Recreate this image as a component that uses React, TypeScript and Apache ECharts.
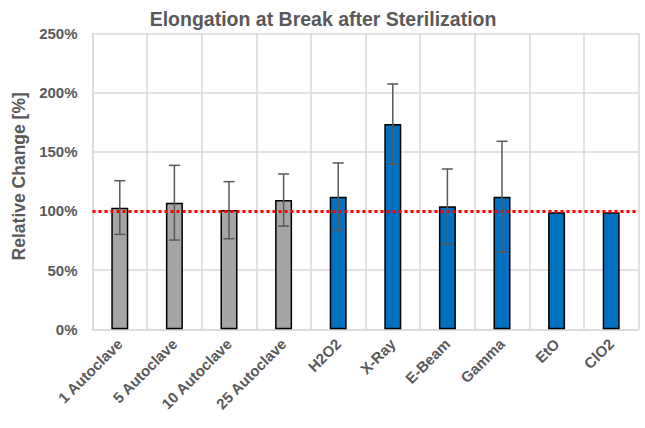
import React, { useEffect, useRef } from "react";
import * as echarts from "echarts";

const categories = ["1 Autoclave", "5 Autoclave", "10 Autoclave", "25 Autoclave", "H2O2", "X-Ray", "E-Beam", "Gamma", "EtO", "ClO2"];
const values = [102.7, 106.9, 100.8, 109.2, 112, 173.4, 103.9, 112, 98.8, 98.8];
const errLow = [80.2, 75.4, 76.5, 87.2, 83.6, 139.4, 72, 65, null, null];
const errHigh = [125.5, 138.5, 124.7, 131.2, 140.5, 207.2, 135.4, 158.8, null, null];
const barColors = ["#A5A5A5", "#A5A5A5", "#A5A5A5", "#A5A5A5", "#0070C0", "#0070C0", "#0070C0", "#0070C0", "#0070C0", "#0070C0"];
const yTicks = [0, 50, 100, 150, 200, 250];
const referenceValue = 100;

export default function App() {
  const ref = useRef<HTMLDivElement>(null);
  useEffect(() => {
    const chart = echarts.init(ref.current!, null, { renderer: "svg" });
    const font = "'Liberation Sans', Arial, sans-serif";
    const errData = categories
      .map((_, i) => (errLow[i] == null ? null : [i, errLow[i], errHigh[i]]))
      .filter((d) => d != null);
    chart.setOption({
      animation: false,
      backgroundColor: "#ffffff",
      title: {
        text: "Elongation at Break after Sterilization",
        left: 318,
        textAlign: "center",
        top: 4,
        textStyle: { fontFamily: font, fontSize: 19.5, fontWeight: "bold", color: "#595959" },
      },
      grid: { left: 92.5, right: 6.5, top: 33.3, bottom: 98.7, containLabel: false },
      xAxis: {
        type: "category",
        data: categories,
        axisLine: { show: true, lineStyle: { color: "#D9D9D9", width: 1.5 } },
        axisTick: { show: false },
        splitLine: { show: true, lineStyle: { color: "#D9D9D9", width: 1.5 } },
        axisLabel: {
          interval: 0,
          rotate: 45,
          margin: 12,
          fontFamily: font,
          fontSize: 15,
          fontWeight: "bold",
          color: "#595959",
        },
      },
      yAxis: {
        type: "value",
        min: 0,
        max: 250,
        interval: 50,
        name: "Relative Change [%]",
        nameLocation: "middle",
        nameGap: 60,
        nameTextStyle: { fontFamily: font, fontSize: 17.5, fontWeight: "bold", color: "#595959", padding: [0, 0, 0, 10] },
        axisLine: { show: true, lineStyle: { color: "#D9D9D9", width: 1.5 } },
        axisTick: { show: false },
        splitLine: { show: true, lineStyle: { color: "#D9D9D9", width: 1.5 } },
        axisLabel: {
          margin: 15,
          fontFamily: font,
          fontSize: 15,
          fontWeight: "bold",
          color: "#595959",
          formatter: (v: number) => (yTicks.includes(v) ? v + "%" : ""),
        },
      },
      series: [
        {
          type: "bar",
          data: values.map((v, i) => ({ value: v, itemStyle: { color: barColors[i] } })),
          barWidth: 17,
          itemStyle: { borderColor: "#000000", borderWidth: 1.5 },
          markLine: {
            silent: true,
            symbol: "none",
            label: { show: false },
            lineStyle: { color: "#FF0000", type: [3, 3], width: 3 },
            data: [{ yAxis: referenceValue }],
          },
          z: 2,
        },
        {
          type: "custom",
          data: errData,
          z: 5,
          renderItem: (params: any, api: any) => {
            const x = api.value(0);
            const lo = api.coord([x, api.value(1)]);
            const hi = api.coord([x, api.value(2)]);
            const hw = 5.5;
            const style = { stroke: "#595959", lineWidth: 1.5 };
            return {
              type: "group",
              children: [
                { type: "line", shape: { x1: lo[0], y1: lo[1], x2: hi[0], y2: hi[1] }, style },
                { type: "line", shape: { x1: lo[0] - hw, y1: lo[1], x2: lo[0] + hw, y2: lo[1] }, style },
                { type: "line", shape: { x1: hi[0] - hw, y1: hi[1], x2: hi[0] + hw, y2: hi[1] }, style },
              ],
            };
          },
        },
      ],
    });
    return () => chart.dispose();
  }, []);
  return <div ref={ref} style={{ width: 645, height: 428, position: "absolute", left: 0, top: 0 }} />;
}
